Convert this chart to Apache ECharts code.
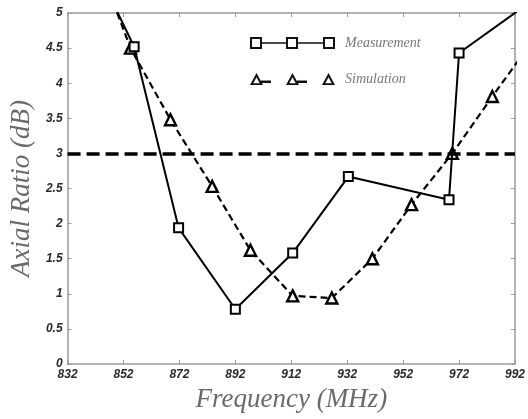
<!DOCTYPE html>
<html>
<head>
<meta charset="utf-8">
<script src="https://cdn.jsdelivr.net/npm/echarts@6/dist/echarts.min.js"></script>
<style>
  html, body { margin: 0; padding: 0; background: #fff; }
  #chart { width: 528px; height: 419px; }
</style>
</head>
<body>
<div id="chart"></div>
<script>
// Axial ratio versus frequency: measured and simulated curves with the 3 dB limit.
const measFreq = [840, 855.8, 871.7, 892, 912.5, 932.4, 968.4, 972, 1000];
const measAR   = [5.82, 4.52, 1.94, 0.78, 1.58, 2.67, 2.34, 4.43, 5.23];

const simFreq = [840, 854.5, 868.8, 883.7, 897.4, 912.5, 926.5, 941, 955, 969.6, 983.9, 1000];
const simAR   = [6.03, 4.5, 3.48, 2.53, 1.62, 0.97, 0.94, 1.5, 2.27, 3.0, 3.81, 4.7];

const seriesNames = ['Measurement', 'Simulation'];
const arLimit = 3;

const freqMin = 832, freqMax = 992, freqStep = 20;
const arMin = 0, arMax = 5, arStep = 0.5;

const pairs = (xs, ys) => xs.map((x, i) => [x, ys[i]]);

// Legend glyphs: three open squares joined by a line, and three open triangles with dashes.
const measIcon = 'path://' +
  'M0 0h12v12h-12Z M2 2v8h8v-8Z ' +
  'M36 0h12v12h-12Z M38 2v8h8v-8Z ' +
  'M73 0h12v12h-12Z M75 2v8h8v-8Z ' +
  'M12 5.2h24v1.6h-24Z M48 5.2h25v1.6h-25Z';
const simIcon = 'path://' +
  'M0 12L6.5 0L13 12Z M3.3 10.2L9.7 10.2L6.5 4.2Z ' +
  'M36 12L42.5 0L49 12Z M39.3 10.2L45.7 10.2L42.5 4.2Z ' +
  'M72 12L78.5 0L85 12Z M75.3 10.2L81.7 10.2L78.5 4.2Z ' +
  'M11 7.5h10v2.6h-10Z M47 7.5h10v2.6h-10Z';

const gray = '#9a9a9a';
const tickLabel = {
  fontFamily: 'Liberation Sans, Arial, sans-serif',
  fontWeight: 'bold',
  fontStyle: 'italic',
  fontSize: 12,
  color: '#2a2a2a'
};
const titleFont = {
  fontFamily: 'Liberation Serif, Times New Roman, serif',
  fontStyle: 'italic',
  fontSize: 27,
  color: '#6a6a6a'
};

const chart = echarts.init(document.getElementById('chart'), null, { renderer: 'canvas' });

chart.setOption({
  backgroundColor: '#fff',
  animation: false,
  grid: { left: 67, right: 12, top: 13, bottom: 55, containLabel: false },
  legend: {
    orient: 'vertical',
    left: 245,
    top: 31,
    itemGap: 22,
    itemWidth: 85,
    itemHeight: 12,
    selectedMode: false,
    itemStyle: { color: '#111', borderWidth: 0 },
    textStyle: {
      fontFamily: 'Liberation Serif, Times New Roman, serif',
      fontStyle: 'italic',
      fontSize: 14,
      color: '#777',
      padding: [0, 0, 0, 5]
    },
    data: [
      { name: seriesNames[0], icon: measIcon },
      { name: seriesNames[1], icon: simIcon }
    ]
  },
  xAxis: [
    {
      type: 'value', position: 'bottom',
      min: freqMin, max: freqMax, interval: freqStep,
      name: 'Frequency (MHz)', nameLocation: 'middle', nameGap: 22,
      nameTextStyle: titleFont,
      axisLine: { show: true, onZero: false, lineStyle: { color: gray, width: 1.5 } },
      axisTick: { show: true, inside: true, length: 4, lineStyle: { color: gray } },
      axisLabel: Object.assign({ margin: 5 }, tickLabel),
      splitLine: { show: false }
    },
    {
      type: 'value', position: 'top',
      min: freqMin, max: freqMax, interval: freqStep,
      axisLine: { show: true, onZero: false, lineStyle: { color: gray, width: 1.5 } },
      axisTick: { show: true, inside: true, length: 4, lineStyle: { color: gray } },
      axisLabel: { show: false },
      splitLine: { show: false }
    }
  ],
  yAxis: [
    {
      type: 'value', position: 'left',
      min: arMin, max: arMax, interval: arStep,
      name: 'Axial Ratio (dB)', nameLocation: 'middle', nameGap: 31,
      nameTextStyle: titleFont,
      axisLine: { show: true, onZero: false, lineStyle: { color: gray, width: 1.5 } },
      axisTick: { show: true, inside: true, length: 4, lineStyle: { color: gray } },
      axisLabel: Object.assign({ margin: 5 }, tickLabel),
      splitLine: { show: false }
    },
    {
      type: 'value', position: 'right',
      min: arMin, max: arMax, interval: arStep,
      axisLine: { show: true, onZero: false, lineStyle: { color: gray, width: 1.5 } },
      axisTick: { show: true, inside: true, length: 4, lineStyle: { color: gray } },
      axisLabel: { show: false },
      splitLine: { show: false }
    }
  ],
  series: [
    {
      name: seriesNames[0],
      type: 'line',
      xAxisIndex: 0, yAxisIndex: 0,
      data: pairs(measFreq, measAR),
      clip: true,
      symbol: 'rect',
      symbolSize: 9,
      itemStyle: { color: '#fff', borderColor: '#000', borderWidth: 2 },
      lineStyle: { color: '#000', width: 2 },
      z: 3,
      markLine: {
        silent: true,
        symbol: 'none',
        label: { show: false },
        lineStyle: { color: '#000', width: 3.5, type: [13, 6] },
        data: [{ yAxis: arLimit }]
      }
    },
    {
      name: seriesNames[1],
      type: 'line',
      xAxisIndex: 0, yAxisIndex: 0,
      data: pairs(simFreq, simAR),
      clip: true,
      symbol: 'triangle',
      symbolSize: 11,
      itemStyle: { color: '#fff', borderColor: '#000', borderWidth: 2.4 },
      lineStyle: { color: '#000', width: 2.2, type: [7, 4] },
      z: 2
    }
  ]
});
</script>
</body>
</html>
